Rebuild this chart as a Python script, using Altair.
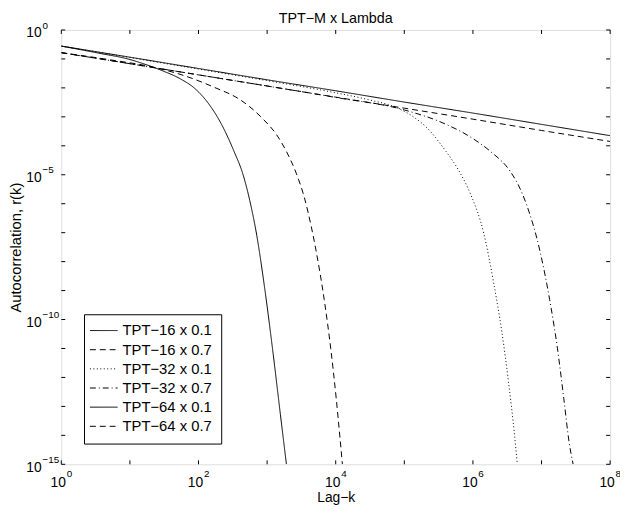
import altair as alt
import pandas as pd

FONT = "Liberation Sans"

TITLE = ["TPT−M x Lambda"]
SERIES = ["TPT−16 x 0.1", "TPT−16 x 0.7", "TPT−32 x 0.1",
          "TPT−32 x 0.7", "TPT−64 x 0.1", "TPT−64 x 0.7"]
DASHES = [[1, 0], [6, 4], [1, 2.5], [6, 3, 1, 3], [1, 0], [6, 4]]

# log10(lag) and log10(r)
lk_16_01 = [0, 0.547, 0.978, 1.219, 1.482, 1.741, 1.942, 2.129, 2.331, 2.518, 2.647, 2.748, 2.849, 2.954, 3.079, 3.194, 3.281]
lr_16_01 = [-0.556, -0.801, -1.006, -1.183, -1.415, -1.695, -2.012, -2.489, -3.239, -4.194, -4.978, -5.898, -7.092, -8.739, -11.013, -13.287, -14.991]

lk_16_07 = [0, 0.691, 1.363, 1.794, 2.226, 2.604, 2.945, 3.137, 3.281, 3.424, 3.540, 3.640, 3.712, 3.832, 3.928, 4.007, 4.062, 4.097]
lr_16_07 = [-0.784, -1.023, -1.296, -1.579, -1.977, -2.404, -3.086, -3.614, -4.194, -4.944, -5.762, -6.751, -7.603, -9.308, -11.013, -12.718, -14.081, -14.991]

lk_32_01 = [0, 1, 2, 3, 4, 4.5, 4.863, 5.1, 5.338, 5.554, 5.607, 5.799, 5.967, 6.158, 6.302, 6.422, 6.518, 6.600, 6.647]
lr_32_01 = [-0.556, -0.95, -1.35, -1.75, -2.17, -2.42, -2.66, -2.95, -3.40, -4.02, -4.19, -4.876, -5.677, -7.02, -8.73, -10.43, -12.14, -13.84, -14.99]

lk_32_07 = [0, 1, 2, 3, 4, 5.0, 5.580, 6.0, 6.255, 6.542, 6.662, 6.777, 6.974, 7.118, 7.233, 7.324, 7.403, 7.460]
lr_32_07 = [-0.784, -1.165, -1.55, -1.935, -2.33, -2.762, -3.229, -3.750, -4.194, -4.876, -5.353, -6.001, -7.603, -9.308, -11.013, -12.718, -14.252, -14.991]

lk_64_01 = [0, 1, 2, 3, 4, 5, 6, 7, 8]
lr_64_01 = [-0.556, -0.94, -1.33, -1.72, -2.10, -2.49, -2.87, -3.26, -3.65]

lk_64_07 = [0, 1, 2, 3, 4, 5, 6, 7, 8]
lr_64_07 = [-0.784, -1.165, -1.55, -1.935, -2.32, -2.70, -3.08, -3.47, -3.85]

X_TICKS = [1e0, 1e1, 1e2, 1e3, 1e4, 1e5, 1e6, 1e7, 1e8]
Y_TICKS = [10.0 ** (-i) for i in range(16)]
X_LABEL_VALS = [1e0, 1e2, 1e4, 1e6, 1e8]
X_LABEL_EXP = ["0", "2", "4", "6", "8"]
Y_LABEL_VALS = [1e0, 1e-5, 1e-10, 1e-15]
Y_LABEL_EXP = ["0", "−5", "−10", "−15"]

series_data = [
    (SERIES[0], lk_16_01, lr_16_01),
    (SERIES[1], lk_16_07, lr_16_07),
    (SERIES[2], lk_32_01, lr_32_01),
    (SERIES[3], lk_32_07, lr_32_07),
    (SERIES[4], lk_64_01, lr_64_01),
    (SERIES[5], lk_64_07, lr_64_07),
]
rows = []
for name, lks, lrs in series_data:
    for a, b in zip(lks, lrs):
        rows.append({"series": name, "k": 10.0 ** a, "r": 10.0 ** b})
df = pd.DataFrame(rows)

W, H = 556, 440
xs = alt.Scale(type="log", domain=[1, 1e8], nice=False)
ys = alt.Scale(type="log", domain=[1e-15, 1], nice=False)

lines = alt.Chart(df).mark_line(
    clip=True, strokeWidth=1, color="black", interpolate="monotone"
).encode(
    x=alt.X("k:Q", scale=xs, axis=alt.Axis(
        title="Lag−k", labels=False, ticks=False, domain=False, grid=False,
        titleBaseline="alphabetic", titlePadding=38, titleFont=FONT,
        titleFontSize=14, titleFontWeight="normal", titleColor="black")),
    y=alt.Y("r:Q", scale=ys, axis=alt.Axis(
        title="Autocorrelation, r(k)", labels=False, ticks=False, domain=False,
        grid=False, titlePadding=38, titleFont=FONT, titleFontSize=15,
        titleFontWeight="normal", titleColor="black")),
    strokeDash=alt.StrokeDash("series:N", scale=alt.Scale(domain=SERIES, range=DASHES),
        legend=alt.Legend(
            title=None, orient="none", legendX=23, legendY=288,
            strokeColor="black", fillColor="white", padding=9,
            symbolType="M-1.5,0H2.5", symbolSize=196, symbolStrokeWidth=1,
            symbolStrokeColor="black", symbolFillColor="transparent",
            labelFont=FONT, labelFontSize=15,
            labelColor="black", labelOffset=15, rowPadding=3.4,
            cornerRadius=0)),
)

xt = pd.DataFrame({"k": X_TICKS})
yt = pd.DataFrame({"r": Y_TICKS})
TL = 4
tick_bottom = alt.Chart(xt).mark_rule(color="black", strokeWidth=1).encode(
    x=alt.X("k:Q", scale=xs), y=alt.value(H), y2=alt.value(H - TL))
tick_top = alt.Chart(xt).mark_rule(color="black", strokeWidth=1).encode(
    x=alt.X("k:Q", scale=xs), y=alt.value(0), y2=alt.value(TL))
tick_left = alt.Chart(yt).mark_rule(color="black", strokeWidth=1).encode(
    y=alt.Y("r:Q", scale=ys), x=alt.value(0), x2=alt.value(TL))
tick_right = alt.Chart(yt).mark_rule(color="black", strokeWidth=1).encode(
    y=alt.Y("r:Q", scale=ys), x=alt.value(W), x2=alt.value(W - TL))

xl = pd.DataFrame({"k": X_LABEL_VALS, "exp": X_LABEL_EXP, "base": ["10"] * len(X_LABEL_VALS)})
yl = pd.DataFrame({"r": Y_LABEL_VALS, "exp": Y_LABEL_EXP, "base": ["10"] * len(Y_LABEL_VALS)})

xbase = alt.Chart(xl).mark_text(align="right", baseline="alphabetic", dx=4.7,
                                font=FONT, fontSize=14, color="black").encode(
    x=alt.X("k:Q", scale=xs), y=alt.value(H + 22.5), text="base:N")
xexp = alt.Chart(xl).mark_text(align="left", baseline="alphabetic", dx=5.5,
                               font=FONT, fontSize=10, color="black").encode(
    x=alt.X("k:Q", scale=xs), y=alt.value(H + 12.5), text="exp:N")
ybase = alt.Chart(yl).mark_text(align="left", baseline="alphabetic", dy=7.5,
                                font=FONT, fontSize=14, color="black").encode(
    y=alt.Y("r:Q", scale=ys), x=alt.value(-35.5), text="base:N")
yexp = alt.Chart(yl).mark_text(align="left", baseline="alphabetic", dy=-1.5,
                               font=FONT, fontSize=10, color="black").encode(
    y=alt.Y("r:Q", scale=ys), x=alt.value(-19), text="exp:N")

title_mark = alt.Chart(pd.DataFrame({"t": TITLE})).mark_text(
    align="center", baseline="alphabetic", font=FONT, fontSize=14.5, color="black"
).encode(x=alt.value(W / 2), y=alt.value(-7), text="t:N")

chart = alt.layer(
    lines, tick_bottom, tick_top, tick_left, tick_right, xbase, xexp, ybase, yexp,
    title_mark
).properties(
    width=W, height=H,
    padding={"left": 54, "top": 19, "right": 10, "bottom": 41},
    autosize=alt.AutoSizeParams(type="none"),
).configure_view(
    stroke="black", strokeWidth=1
).configure(background="white")

chart.save("out.html", embed_options={"renderer": "svg", "actions": False})
